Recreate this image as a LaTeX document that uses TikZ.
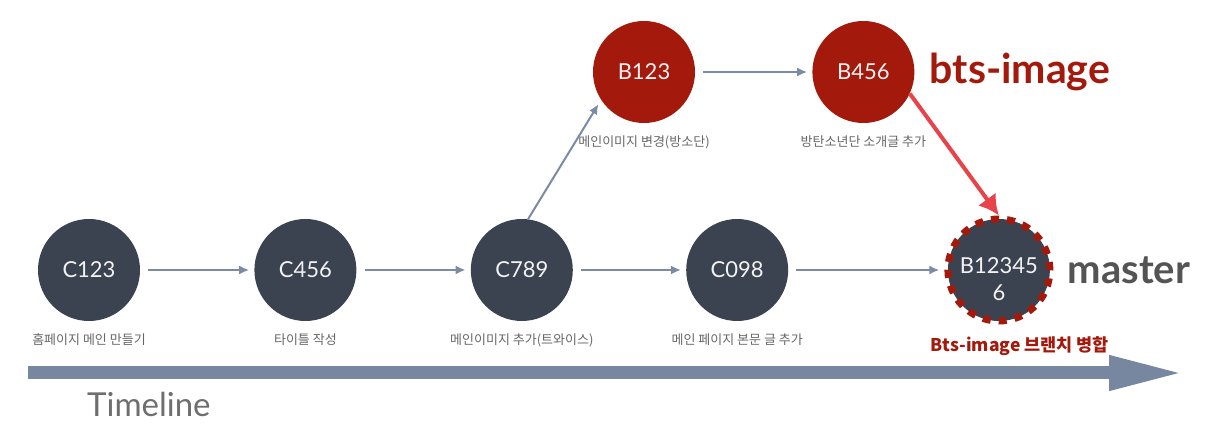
\documentclass[tikz,border=0pt]{standalone}
\usepackage{fontspec}
\setmainfont{Lato}
\newfontfamily\krfont{Noto Sans CJK KR}
\usetikzlibrary{positioning,arrows.meta}
\definecolor{commitgray}{HTML}{3C4350}
\definecolor{branchred}{HTML}{A3190C}
\definecolor{flowgray}{HTML}{7A8BA3}
\definecolor{msggray}{HTML}{666666}
\definecolor{mergered}{HTML}{E8424A}
\definecolor{mastergray}{HTML}{545454}
\definecolor{timeblue}{HTML}{7787A0}
\tikzset{
	commit/.style={circle, fill=commitgray, text=white!90!gray, minimum size=102pt, inner sep=0pt, font=\fontsize{22}{27}\selectfont},
	bcommit/.style={commit, fill=branchred},
	msg/.style={font=\krfont\fontsize{13}{15}\selectfont, text=msggray, inner sep=0pt},
	flow/.style={draw=flowgray, line width=2pt, -{Latex[length=10pt,width=9pt]}, shorten <=8pt, shorten >=5pt},
}

\begin{document}
\begin{tikzpicture}[x=1pt, y=-1pt, label distance=12pt]
	\useasboundingbox (0,0) rectangle (1213,435);
	\node[commit, label={[msg]below:홈페이지 메인 만들기}] (c123) at (89,270) {C123};
	\node[commit, right=114pt of c123, label={[msg]below:타이틀 작성}] (c456) {C456};
	\node[commit, right=114pt of c456, label={[msg]below:메인이미지 추가(트와이스)}] (c789) {C789};
	\node[commit, right=113pt of c789, label={[msg]below:메인 페이지 본문 글 추가}] (c098) {C098};
	\node[commit, right=156pt of c098, align=center, draw=branchred, line width=7pt, dash pattern=on 8pt off 8pt,
	  label={[msg, font=\krfont\bfseries\fontsize{17.5}{19}\selectfont, text=branchred, xshift=21pt]below:Bts-image 브랜치 병합}] (merge) {\rule{0pt}{34pt}B12345\\6};
	\node[bcommit, label={[msg]below:메인이미지 변경(방소단)}] (b123) at (644,72) {B123};
	\node[bcommit, right=117pt of b123, label={[msg]below:방탄소년단 소개글 추가}] (b456) {B456};

	\node[right=15pt of b456, inner sep=0pt, text=branchred, font=\bfseries\fontsize{41}{43}\selectfont] (bts) {bts-image};
	\node[right=14pt of merge, inner sep=0pt, text=mastergray, font=\bfseries\fontsize{40}{42}\selectfont] (master) {master};

	\draw[flow] (c123) -- (c456);
	\draw[flow] (c456) -- (c789);
	\draw[flow] (c789) -- (c098);
	\draw[flow] (c098) -- (merge);
	\draw[flow, shorten <=0pt] (c789.83) -- (b123.213);
	\draw[flow] (b123) -- (b456);
	\draw[draw=mergered, line width=4pt, -{Latex[length=20pt,width=22pt]}] (b456.-25) -- (merge.north);

	\coordinate (tl-start) at (28,373);
	\coordinate (tl-end) at (1184,373);
	\draw[draw=timeblue, line width=13pt, -{Triangle[length=75pt,width=32pt]}] (tl-start) -- (tl-end);
	\node[anchor=base west, inner sep=0pt, text=mastergray!85, font=\fontsize{33}{36}\selectfont] (tl) at (87,417) {Timeline};
\end{tikzpicture}
\end{document}
